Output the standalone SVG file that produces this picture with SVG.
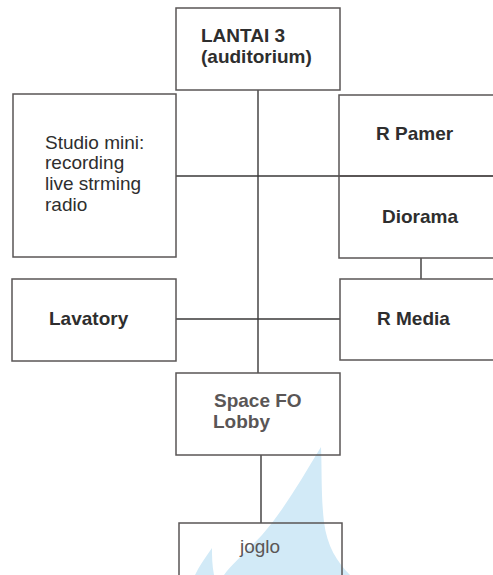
<svg xmlns="http://www.w3.org/2000/svg" width="493" height="575" viewBox="0 0 493 575">
<style>
.box{fill:none;stroke:#5a5656;stroke-width:1.5}
.ln{stroke:#3a3838;stroke-width:1.4;fill:none}
.t{font-family:"Liberation Sans",Arial,sans-serif;font-size:19px;fill:#2e2e2e}
.b{font-weight:bold}
.g{fill:#5a5656}
</style>
<rect width="493" height="575" fill="#ffffff"/>
<g id="watermark" fill="#d2eaf7">
<path d="M321,447 C302,478 284,510 262,535 C246,552 232,564 224,575 L350,575 C337,562 327,546 324,522 C321,497 322,470 321,447 Z"/>
<path d="M212,548 C205,558 199,566 195,575 L214,575 C212,565 212,556 212,548 Z"/>
</g>
<g id="connectors">
<line class="ln" x1="258" y1="90" x2="258" y2="373"/>
<line class="ln" x1="176" y1="176" x2="493" y2="176"/>
<line class="ln" x1="176" y1="319" x2="340" y2="319"/>
<line class="ln" x1="421" y1="258" x2="421" y2="279"/>
<line class="ln" x1="261" y1="455" x2="261" y2="523"/>
</g>
<g id="lantai3">
<rect class="box" x="176" y="8" width="164" height="82"/>
<text class="t b" x="201" y="42">LANTAI 3</text>
<text class="t b" x="201" y="63">(auditorium)</text>
</g>
<g id="studio">
<rect class="box" x="13" y="94" width="163" height="163"/>
<text class="t" x="45" y="149">Studio mini:</text>
<text class="t" x="45" y="169">recording</text>
<text class="t" x="45" y="190">live strming</text>
<text class="t" x="45" y="211">radio</text>
</g>
<g id="rpamer">
<rect class="box" x="339" y="95" width="160" height="81"/>
<text class="t b" x="376" y="140">R Pamer</text>
</g>
<g id="diorama">
<rect class="box" x="339" y="176" width="160" height="82"/>
<text class="t b" x="382" y="223">Diorama</text>
</g>
<g id="lavatory">
<rect class="box" x="12" y="279" width="164" height="82"/>
<text class="t b" x="49" y="325">Lavatory</text>
</g>
<g id="rmedia">
<rect class="box" x="340" y="279" width="160" height="81"/>
<text class="t b" x="377" y="325">R Media</text>
</g>
<g id="spacefo">
<rect class="box" x="176" y="373" width="164" height="82"/>
<text class="t b g" x="214" y="407">Space FO</text>
<text class="t b g" x="213" y="428">Lobby</text>
</g>
<g id="joglo">
<rect class="box" x="179" y="523" width="163" height="60"/>
<text class="t g" x="240" y="553">joglo</text>
</g>
</svg>
